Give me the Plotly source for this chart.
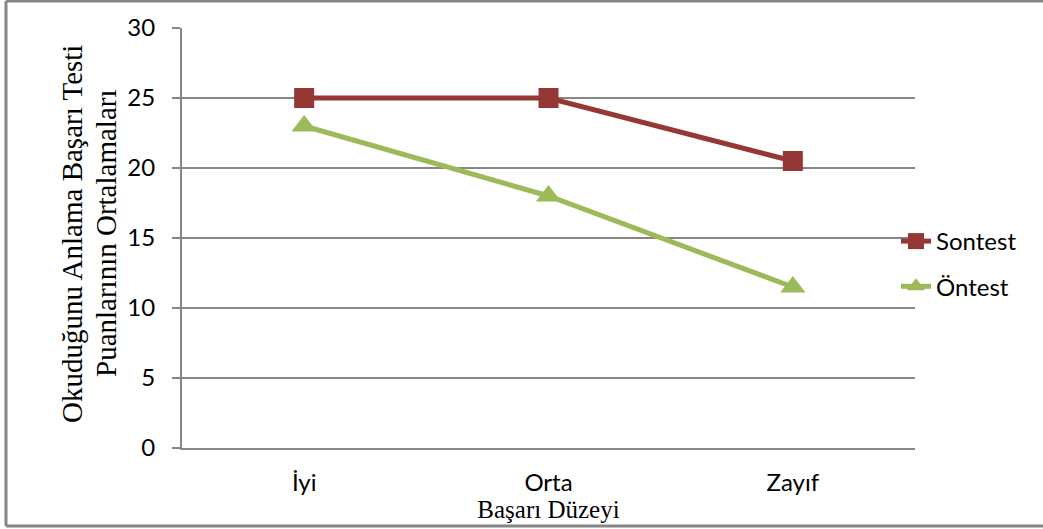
import plotly.graph_objects as go

categories = ["İyi", "Orta", "Zayıf"]
sontest = [25, 25, 20.5]
ontest = [23, 18, 11.5]
y_ticks = [0, 5, 10, 15, 20, 25, 30]
y_title_lines = ["Okuduğunu Anlama Başarı Testi", "Puanlarının Ortalamaları"]
x_title = "Başarı Düzeyi"

W, H = 1043, 529
L, R, T, B = 182, 128, 28, 81
pw, ph = W - L - R, H - T - B

fig = go.Figure()
fig.add_trace(go.Scatter(
    x=categories, y=sontest, name="Sontest", mode="lines+markers",
    legendgroup="a",
    line=dict(color="#953735", width=5),
    marker=dict(symbol="square", size=20, color="#953735"),
))
fig.add_trace(go.Scatter(
    x=categories, y=ontest, name="Öntest", mode="lines+markers",
    legendgroup="b",
    line=dict(color="#9BBB59", width=5),
    marker=dict(symbol="triangle-up", size=22, color="#9BBB59"),
))

def px_x(p):
    return (p - L) / pw

def px_y(p):
    return (H - B - p) / ph

# outer frame: left, top and bottom edges only
frame_color = "#868686"
for (x0, y0, x1, y1) in [(6, 1, 6, 526), (6, 1, 1043, 1), (6, 526, 1043, 526)]:
    fig.add_shape(type="line", xref="paper", yref="paper",
                  x0=px_x(x0), x1=px_x(x1), y0=px_y(y0), y1=px_y(y1),
                  line=dict(color=frame_color, width=3), layer="below")

serif = "Liberation Serif, Times New Roman, serif"

for line_text, cx, cy in zip(y_title_lines, [72, 106], [234, 234]):
    fig.add_annotation(text=line_text, xref="paper", yref="paper",
                       x=px_x(cx), y=px_y(cy), xanchor="center", yanchor="middle",
                       textangle=-90, showarrow=False,
                       font=dict(family=serif, size=29, color="black"))

fig.update_layout(
    width=W, height=H,
    margin=dict(l=L, r=R, t=T, b=B, pad=0),
    paper_bgcolor="white", plot_bgcolor="white",
    font=dict(family="Lato, Open Sans, sans-serif", size=24, color="black"),
    legend=dict(x=px_x(896), y=px_y(219), xanchor="left", yanchor="top",
                font=dict(size=24), tracegroupgap=11, traceorder="grouped",
                bgcolor="rgba(0,0,0,0)"),
    xaxis=dict(
        type="category", range=[-0.5, 2.5],
        showline=True, linecolor="#868686", linewidth=2,
        showgrid=False, ticks="", tickfont=dict(size=24),
        ticklabelstandoff=12,
        title=dict(text=x_title, standoff=0,
                   font=dict(family=serif, size=25)),
    ),
    yaxis=dict(
        range=[0, 30], tickvals=y_ticks,
        showline=True, linecolor="#868686", linewidth=2,
        showgrid=True, gridcolor="#868686", gridwidth=2,
        ticks="outside", ticklen=8, tickcolor="#868686", tickwidth=2,
        tickfont=dict(size=24), zeroline=False,
        ticklabelstandoff=12,
    ),
)

fig.write_html("out.html", config={"displayModeBar": False},
               post_script="document.body.style.margin='0';")
